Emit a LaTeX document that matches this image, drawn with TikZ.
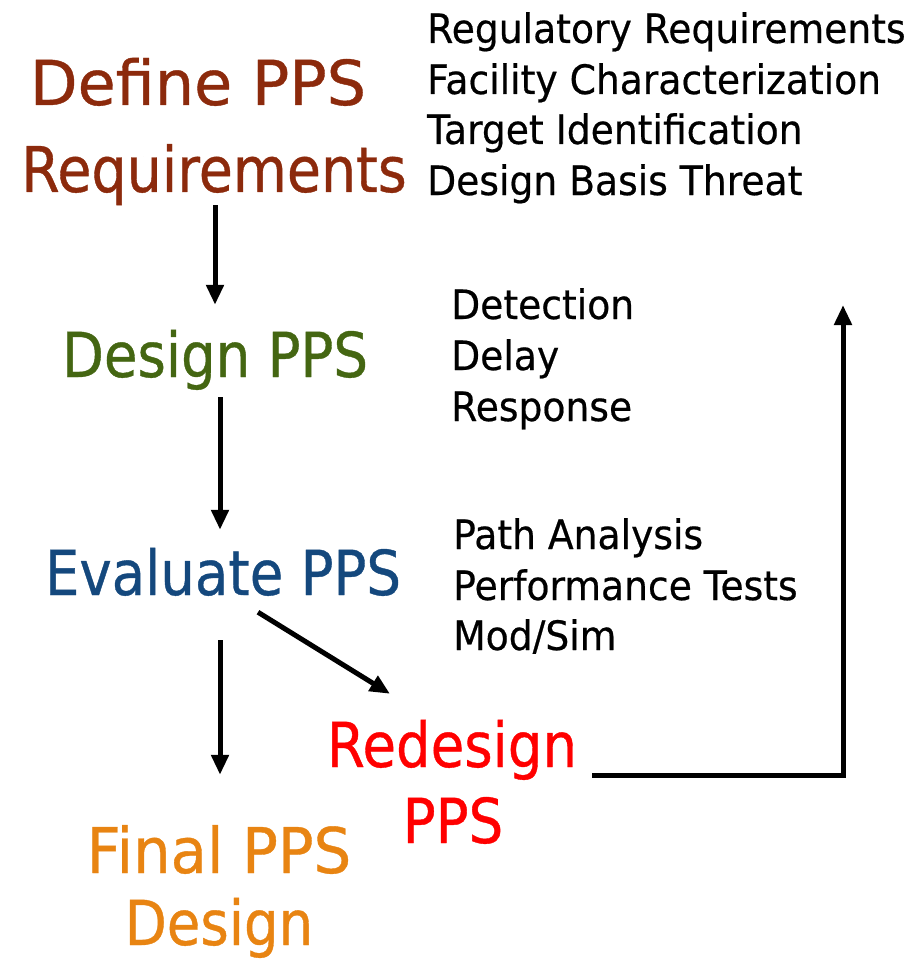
\documentclass[tikz,border=0pt]{standalone}
\usepackage{fontspec}
\usetikzlibrary{arrows.meta}
\newfontfamily\headfont[FakeStretch=0.88,FakeBold=0.6]{DejaVu Sans}
\newfontfamily\headwidefont[FakeStretch=0.94,FakeBold=0.6]{DejaVu Sans}
\newfontfamily\headwidestfont[FakeStretch=1.0,FakeBold=0.6]{DejaVu Sans}
\newfontfamily\itemfont[FakeStretch=0.93,FakeBold=0.5]{DejaVu Sans}
\definecolor{defcol}{RGB}{140,42,12}
\definecolor{descol}{RGB}{68,102,18}
\definecolor{evalcol}{RGB}{20,72,125}
\definecolor{redcol}{RGB}{255,0,0}
\definecolor{fincol}{RGB}{232,132,18}
\tikzset{
  head/.style={inner sep=0pt, anchor=base, text height=45pt, text depth=0pt,
    font=\headfont\fontsize{62}{70}\selectfont},
  item/.style={inner sep=0pt, anchor=base west, text height=30pt, text depth=0pt,
    font=\itemfont\fontsize{40.5}{48}\selectfont},
  arr/.style={line width=5pt, -{Triangle[length=20pt,width=17pt]}},
}
\begin{document}
\begin{tikzpicture}[x=1pt,y=-1pt]
\path[use as bounding box] (0,0) rectangle (919,960);

% stage headings
\node[head, text=defcol, font=\headwidestfont\fontsize{62}{70}\selectfont] (def1) at (198,105) {Define PPS};
\node[head, text=defcol, font=\headfont\fontsize{63}{70}\selectfont, xscale=1.0] (def2) at (214,192) {Requirements};
\node[head, text=descol] (design) at (215,377) {Design PPS};
\node[head, text=evalcol] (eval) at (223,595) {Evaluate PPS};
\node[head, text=redcol] (redes1) at (452,767) {Redesign};
\node[head, text=redcol] (redes2) at (453,843) {PPS};
\node[head, text=fincol, font=\headwidefont\fontsize{63}{70}\selectfont] (fin1) at (219,873) {Final PPS};
\node[head, text=fincol] (fin2) at (219,945) {Design};

% supporting items
\node[item] (r1) at (427,43) {Regulatory Requirements};
\node[item] (r2) at (427,94) {Facility Characterization};
\node[item] (r3) at (427,144) {Target Identification};
\node[item] (r4) at (427,195) {Design Basis Threat};

\node[item] (d1) at (451,319) {Detection};
\node[item] (d2) at (451,370) {Delay};
\node[item] (d3) at (451,421) {Response};

\node[item] (e1) at (453,549) {Path Analysis};
\node[item] (e2) at (453,600) {Performance Tests};
\node[item] (e3) at (453,650) {Mod/Sim};

% flow arrows
\draw[arr] ([xshift=1pt,yshift=-13pt]def2.south) -- ([yshift=27pt]design.north);
\draw[arr] ([xshift=5pt,yshift=-20pt]design.south) -- ([xshift=-3pt,yshift=20pt]eval.north);
\draw[arr] ([xshift=-3pt,yshift=-45pt]eval.south) -- ([xshift=1pt,yshift=53pt]fin1.north);
\draw[arr] ([xshift=35pt,yshift=-17pt]eval.south) -- ([xshift=-62pt,yshift=28pt]redes1.north);

% feedback loop back to the design stage
\coordinate (fbtop) at (843,305);
\draw[arr] ([xshift=15pt,yshift=-8pt]redes1.base east) -| (fbtop);
\end{tikzpicture}
\end{document}
